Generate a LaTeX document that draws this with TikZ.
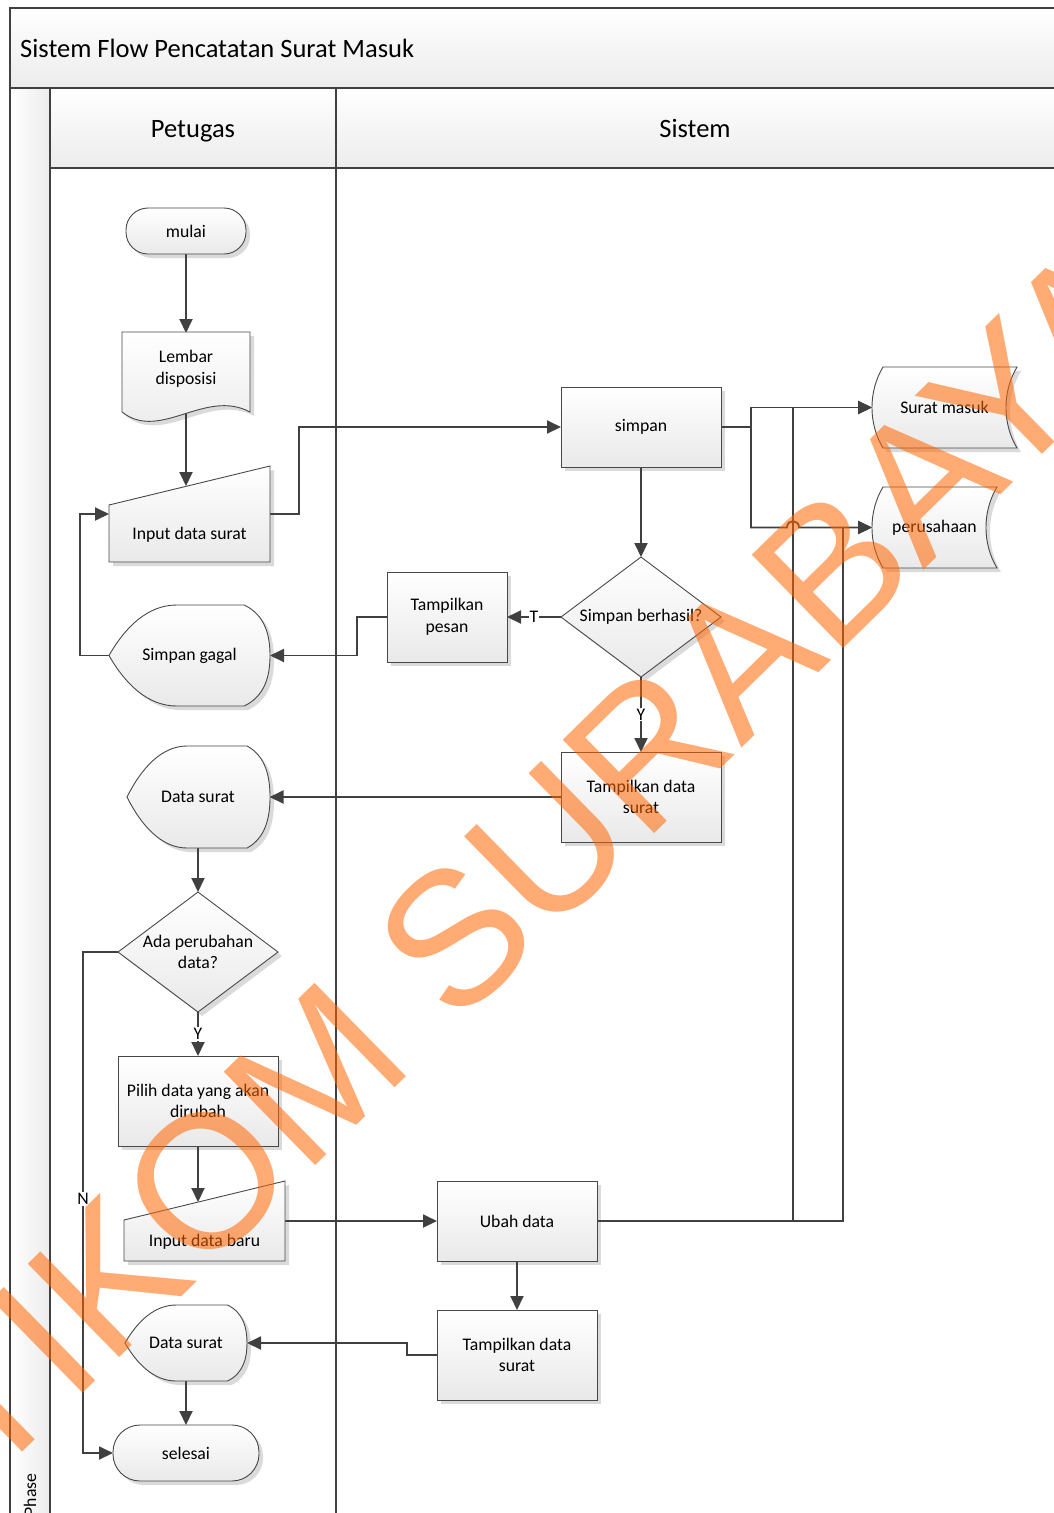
\documentclass[tikz,border=0pt]{standalone}
\usepackage{fontspec}
\setmainfont{Carlito}
\newfontfamily\wmfont{Liberation Sans}
\usetikzlibrary{arrows.meta,calc}

\pgfdeclarelayer{lanes}
\pgfdeclarelayer{links}
\pgfdeclarelayer{shapes}
\pgfdeclarelayer{fore}
\pgfsetlayers{lanes,links,shapes,main,fore}

\definecolor{lineclr}{RGB}{64,64,64}
\definecolor{edgeclr}{RGB}{72,72,72}
\definecolor{shadeclr}{RGB}{233,233,233}
\definecolor{laneshade}{RGB}{236,236,236}
\definecolor{shadowclr}{RGB}{218,218,218}
\definecolor{wmclr}{RGB}{255,102,0}

\newcommand\bodysize{\fontsize{17.7}{21.5}\selectfont}
\newcommand\headsize{\fontsize{26.5}{32}\selectfont}

\tikzset{
  shadowfill/.style={fill=shadowclr},
  bodyfill/.style={draw=edgeclr, line width=0.9pt, top color=white, bottom color=shadeclr},
  box/.style={draw=none, inner sep=2pt, outer sep=0pt, align=center, font=\bodysize},
  link/.style={draw=lineclr, line width=1.9pt},
  arrowlink/.style={link, -{Triangle[length=14pt,width=13pt]}},
  lbl/.style={fill=white, inner sep=1pt, font=\bodysize, text=black},
  laneline/.style={draw=lineclr, line width=1.6pt},
  lanehead/.style={anchor=base, inner sep=0pt, font=\headsize},
}

% outline with its drop shadow
\newcommand\flowshape[1]{%
  \begin{pgfonlayer}{lanes}\path[shadowfill,shift={(4,4)}] #1;\end{pgfonlayer}%
  \begin{pgfonlayer}{shapes}\path[bodyfill] #1;\end{pgfonlayer}}

% display symbol: pointed left side, round right side
\newcommand\dispshape[4]{\flowshape{(#1,{(#2+#4)/2})
  .. controls ({#1+0.10*(#3-#1)},{#2+0.22*(#4-#2)}) and ({#1+0.24*(#3-#1)},#2) .. ({#1+0.42*(#3-#1)},#2)
  -- ({#3-0.16*(#3-#1)},#2)
  .. controls ({#3-0.03*(#3-#1)},{#2+0.1*(#4-#2)}) and (#3,{#2+0.3*(#4-#2)}) .. (#3,{(#2+#4)/2})
  .. controls (#3,{#4-0.3*(#4-#2)}) and ({#3-0.03*(#3-#1)},{#4-0.1*(#4-#2)}) .. ({#3-0.16*(#3-#1)},#4)
  -- ({#1+0.42*(#3-#1)},#4)
  .. controls ({#1+0.24*(#3-#1)},#4) and ({#1+0.10*(#3-#1)},{#4-0.22*(#4-#2)}) .. (#1,{(#2+#4)/2}) -- cycle}}

% stored data symbol
\newcommand\storeshape[4]{\flowshape{({#1+11},#2) -- (#3,#2)
  .. controls ({#3-14.7},{#2+0.3*(#4-#2)}) and ({#3-14.7},{#4-0.3*(#4-#2)}) .. (#3,#4)
  -- ({#1+11},#4)
  .. controls ({#1-3.7},{#4-0.3*(#4-#2)}) and ({#1-3.7},{#2+0.3*(#4-#2)}) .. ({#1+11},#2) -- cycle}}

\begin{document}
\begin{tikzpicture}[x=1pt,y=-1pt]
\useasboundingbox (0,0) rectangle (1053,1513);

% pool, phase column and lanes
\begin{pgfonlayer}{lanes}
  \path[top color=white, bottom color=laneshade] (10,8) rectangle (1070,88);
  \path[left color=white, right color=laneshade] (10,88) rectangle (50,1530);
  \path[top color=white, bottom color=laneshade] (50,88) rectangle (1070,168);
  \draw[laneline] (1070,8) -- (10,8) -- (10,1530);
  \draw[laneline] (10,88) -- (1070,88);
  \draw[laneline] (50,88) -- (50,1530);
  \draw[laneline] (50,168) -- (1070,168);
  \draw[laneline] (336,88) -- (336,1530);
\end{pgfonlayer}

\node[anchor=base west, inner sep=0pt, font=\headsize] (title) at (20,57) {Sistem Flow Pencatatan Surat Masuk};
\node[lanehead] (hpetugas) at (193,137) {Petugas};
\node[lanehead] (hsistem) at (695,137) {Sistem};
\node[rotate=90, inner sep=0pt, font=\bodysize] (phase) at (30,1495) {Phase};

% symbol outlines
\flowshape{[rounded corners=22pt] (126,208) rectangle (246,254)}
\flowshape{(122,332) -- (250,332) -- (250,412) .. controls (205,388) and (160,442) .. (122,412) -- cycle}
\flowshape{(109,562) -- (109,505) -- (270,466) -- (270,562) -- cycle}
\flowshape{(561,387) rectangle (721,467)}
\storeshape{872}{367}{1017}{448}
\storeshape{872}{487}{997}{568}
\flowshape{(561,617) -- (641,557) -- (721,617) -- (641,677) -- cycle}
\flowshape{(387,572) rectangle (507,662)}
\dispshape{109}{605}{270}{706}
\flowshape{(561,752) rectangle (721,842)}
\dispshape{127}{746}{270}{848}
\flowshape{(118,952) -- (198,892) -- (278,952) -- (198,1012) -- cycle}
\flowshape{(118,1056) rectangle (278,1146)}
\flowshape{(124,1261) -- (124,1220) -- (285,1181) -- (285,1261) -- cycle}
\flowshape{(437,1181) rectangle (597,1261)}
\flowshape{(437,1310) rectangle (597,1400)}
\dispshape{125}{1305}{247}{1381}
\flowshape{[rounded corners=27pt] (113,1425) rectangle (259,1481)}

% symbol texts
\node[box, minimum width=120pt, minimum height=46pt] (mulai) at (186,231) {mulai};
\node[box, minimum width=128pt, minimum height=72pt] (lemb) at (186,369) {Lembar\\disposisi};
\node[box, minimum width=161pt, minimum height=57pt] (inp) at (189.5,534.5) {Input data surat};
\node[box, minimum width=160pt, minimum height=80pt] (simpan) at (641,427) {simpan};
\node[box, minimum width=145pt, minimum height=81pt] (sm) at (944.5,407.5) {Surat masuk};
\node[box, minimum width=125pt, minimum height=81pt] (pr) at (934.5,527.5) {perusahaan};
\node[box, minimum width=160pt, minimum height=120pt] (cek1) at (641,617) {Simpan berhasil?};
\node[box, minimum width=120pt, minimum height=90pt] (tp) at (447,617) {Tampilkan\\pesan};
\node[box, minimum width=161pt, minimum height=101pt] (sg) at (189.5,655.5) {Simpan gagal};
\node[box, minimum width=160pt, minimum height=90pt] (tds1) at (641,797) {Tampilkan data\\surat};
\node[box, minimum width=143pt, minimum height=102pt] (ds1) at (198,797) {Data surat};
\node[box, minimum width=160pt, minimum height=120pt] (cek2) at (198,952) {Ada perubahan\\data?};
\node[box, minimum width=160pt, minimum height=90pt] (pilih) at (198,1101) {Pilih data yang akan\\dirubah};
\node[box, minimum width=161pt, minimum height=41pt] (inb) at (204.5,1241.5) {Input data baru};
\node[box, minimum width=160pt, minimum height=80pt] (ubah) at (517,1221) {Ubah data};
\node[box, minimum width=160pt, minimum height=90pt] (tds2) at (517,1355) {Tampilkan data\\surat};
\node[box, minimum width=122pt, minimum height=76pt] (ds2) at (186,1343) {Data surat};
\node[box, minimum width=146pt, minimum height=56pt] (sel) at (186,1453) {selesai};

\coordinate (inpTop) at (186,486);
\coordinate (inbTop) at (198,1202);

% connectors
\begin{pgfonlayer}{links}
  \draw[arrowlink] (mulai.south) -- (lemb.north);
  \draw[arrowlink] (lemb.south) -- (inpTop);
  \draw[arrowlink] ([yshift=20.5pt]inp.east) -- ++(29,0) |- (simpan.west);
  \draw[arrowlink] (simpan.east) -- ++(30,0) |- (sm.west);
  \draw[arrowlink] (simpan.east) -- ++(30,0) |- (787,527.5)
        .. controls (787,519) and (799,519) .. (799,527.5) -- (pr.west);
  \draw[arrowlink] (simpan.south) -- (cek1.north);
  \draw[arrowlink] (cek1.west) -- node[lbl] {T} (tp.east);
  \draw[arrowlink] (tp.west) -- ++(-30,0) |- (sg.east);
  \draw[arrowlink] (sg.west) -- ++(-29,0) |- ([yshift=20.5pt]inp.west);
  \draw[arrowlink] (cek1.south) -- node[lbl] {Y} (tds1.north);
  \draw[arrowlink] (tds1.west) -- (ds1.east);
  \draw[arrowlink] (ds1.south) -- (cek2.north);
  \draw[arrowlink] (cek2.south) -- node[lbl] {Y} (pilih.north);
  \draw[arrowlink] (cek2.west) -- ++(-35,0) |- node[lbl, pos=0.2465] {N} (sel.west);
  \draw[arrowlink] (pilih.south) -- (inbTop);
  \draw[arrowlink] ([yshift=20.5pt]inb.east) -- (ubah.west);
  \draw[arrowlink] (ubah.east) -- ++(196,0) |- (sm.west);
  \draw[arrowlink] (ubah.east) -- ++(246,0) |- (pr.west);
  \draw[arrowlink] (ubah.south) -- (tds2.north);
  \draw[arrowlink] (tds2.west) -- ++(-30,0) |- (ds2.east);
  \draw[arrowlink] (ds2.south) -- (sel.north);
\end{pgfonlayer}

% watermark
\begin{pgfonlayer}{fore}
  \node[anchor=base, rotate=44.4, inner sep=0pt, text=wmclr, text opacity=0.55,
        font=\wmfont\fontsize{190}{190}\selectfont] (wm) at (536,950) {STIKOM SURABAYA};
\end{pgfonlayer}
\end{tikzpicture}
\end{document}
